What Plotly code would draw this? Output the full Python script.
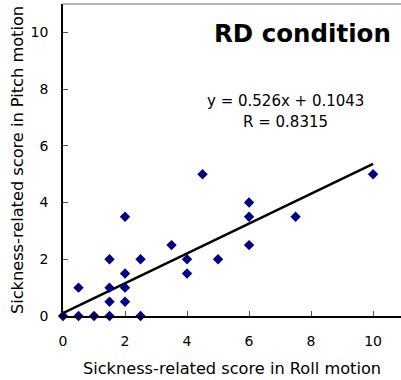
import plotly.graph_objects as go

roll = [0, 0.5, 1, 1.5, 2.5, 0.5, 1.5, 1.5, 1.5, 2, 2, 2, 2, 2.5, 3.5, 4, 4, 4.5, 5, 6, 6, 6, 7.5, 10]
pitch = [0, 0, 0, 0, 0, 1, 1, 0.5, 2, 3.5, 1.5, 1, 0.5, 2, 2.5, 2, 1.5, 5, 2, 4, 3.5, 2.5, 3.5, 5]
slope = 0.526
intercept = 0.1043
r_value = 0.8315
fit_x = [0, 10]
fit_y = [slope * v + intercept for v in fit_x]

font = "DejaVu Sans, sans-serif"

fig = go.Figure()
fig.add_trace(go.Scatter(x=fit_x, y=fit_y, mode="lines",
                         line=dict(color="black", width=2.5), showlegend=False))
fig.add_trace(go.Scatter(x=roll, y=pitch, mode="markers",
                         marker=dict(symbol="diamond", color="#000080", size=8),
                         showlegend=False, cliponaxis=False))

fig.add_annotation(x=1, xref="paper", xanchor="right", xshift=-8, y=0.905, yref="paper",
                   yanchor="middle", text="<b>RD condition</b>", showarrow=False,
                   font=dict(size=24.5, color="black", family=font))
fig.add_annotation(x=7.16, y=7.57, text=f"y = {slope}x + {intercept}",
                   showarrow=False, align="center", font=dict(size=15, color="black", family=font))
fig.add_annotation(x=7.16, y=6.83, text=f"R = {r_value}",
                   showarrow=False, align="center", font=dict(size=15, color="black", family=font))

fig.add_shape(type="line", xref="paper", yref="paper", x0=0, x1=1, y0=1, y1=1,
              line=dict(color="#999999", width=1.5))

fig.update_layout(
    width=401, height=380,
    margin=dict(l=63, r=0, t=4, b=64),
    plot_bgcolor="white", paper_bgcolor="white",
    font=dict(family=font, color="black", size=14),
    xaxis=dict(range=[0, 10.9], tickvals=[0, 2, 4, 6, 8, 10], ticks="inside", ticklen=5,
               tickcolor="#555555", showline=True, linecolor="black", linewidth=1.5,
               showgrid=False, zeroline=False, ticklabelstandoff=11,
               title=dict(text="Sickness-related score in Roll motion", font=dict(size=16.2), standoff=15)),
    yaxis=dict(range=[0, 11], tickvals=[0, 2, 4, 6, 8, 10], ticks="inside", ticklen=5,
               tickcolor="#555555", showline=True, linecolor="black", linewidth=1.5,
               showgrid=False, zeroline=False, ticklabelstandoff=10,
               title=dict(text="Sickness-related score in Pitch motion", font=dict(size=16.2), standoff=3)),
)

fig.write_html("out.html")
